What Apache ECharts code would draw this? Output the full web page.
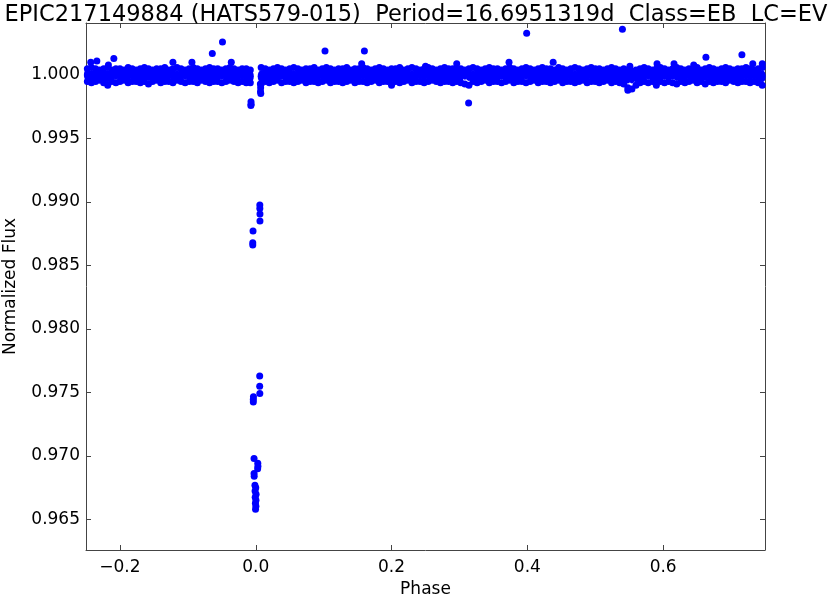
<!DOCTYPE html>
<html>
<head>
<meta charset="utf-8">
<script src="https://cdn.jsdelivr.net/npm/echarts@6/dist/echarts.min.js"></script>
<style>
html, body { margin: 0; padding: 0; background: #fff; }
#chart { width: 830px; height: 598px; }
</style>
</head>
<body>
<div id="chart"></div>
<script>
var titleText = 'EPIC217149884 (HATS579-015)  Period=16.6951319d  Class=EB  LC=EV';
var xTicks = [-0.2, 0.0, 0.2, 0.4, 0.6];
var yTicks = [0.965, 0.970, 0.975, 0.980, 0.985, 0.990, 0.995, 1.000];

// out-of-transit band, read as upper / middle / lower rows of the dot cloud
var bandPhase = [
-0.248,-0.242,-0.236,-0.230,-0.224,-0.218,-0.212,-0.206,-0.200,-0.194,
-0.188,-0.182,-0.176,-0.170,-0.164,-0.158,-0.152,-0.146,-0.140,-0.134,
-0.128,-0.122,-0.116,-0.110,-0.104,-0.098,-0.092,-0.086,-0.080,-0.074,
-0.068,-0.062,-0.056,-0.050,-0.044,-0.038,-0.032,-0.026,-0.020,-0.014,
-0.008,
0.008,0.014,0.020,0.026,0.032,0.038,0.044,0.050,0.056,0.062,
0.068,0.074,0.080,0.086,0.092,0.098,0.104,0.110,0.116,0.122,
0.128,0.134,0.140,0.146,0.152,0.158,0.164,0.170,0.176,0.182,
0.188,0.194,0.200,0.206,0.212,0.218,0.224,0.230,0.236,0.242,
0.248,0.254,0.260,0.266,0.272,0.278,0.284,0.290,0.296,0.302,
0.308,0.314,0.320,0.326,0.332,0.338,0.344,0.350,0.356,0.362,
0.368,0.374,0.380,0.386,0.392,0.398,0.404,0.410,0.416,0.422,
0.428,0.434,0.440,0.446,0.452,0.458,0.464,0.470,0.476,0.482,
0.488,0.494,0.500,0.506,0.512,0.518,0.524,0.530,0.536,0.542,
0.548,0.554,0.560,0.566,0.572,0.578,0.584,0.590,0.596,0.602,
0.608,0.614,0.620,0.626,0.632,0.638,0.644,0.650,0.656,0.662,
0.668,0.674,0.680,0.686,0.692,0.698,0.704,0.710,0.716,0.722,
0.728,0.734,0.740,0.746
];
var bandHi = [
1.0005,1.0006,1.0005,1.0004,1.0005,1.0006,1.0004,1.0005,1.0005,1.0004,
1.0006,1.0005,1.0004,1.0005,1.0006,1.0005,1.0004,1.0005,1.0005,1.0006,
1.0004,1.0005,1.0006,1.0005,1.0004,1.0005,1.0006,1.0005,1.0004,1.0005,
1.0006,1.0005,1.0005,1.0004,1.0005,1.0006,1.0005,1.0004,1.0005,1.0005,
1.0004,
1.0006,1.0005,1.0004,1.0005,1.0006,1.0005,1.0004,1.0005,1.0006,1.0005,
1.0004,1.0005,1.0005,1.0006,1.0004,1.0005,1.0006,1.0005,1.0004,1.0005,
1.0005,1.0006,1.0004,1.0005,1.0005,1.0006,1.0005,1.0004,1.0005,1.0006,
1.0005,1.0004,1.0005,1.0005,1.0006,1.0004,1.0005,1.0006,1.0005,1.0004,
1.0005,1.0006,1.0005,1.0004,1.0005,1.0006,1.0005,1.0005,1.0004,1.0005,
1.0004,1.0005,1.0006,1.0005,1.0004,1.0005,1.0006,1.0005,1.0005,1.0004,
1.0005,1.0006,1.0005,1.0004,1.0005,1.0006,1.0005,1.0004,1.0005,1.0006,
1.0005,1.0005,1.0004,1.0006,1.0005,1.0004,1.0005,1.0006,1.0005,1.0004,
1.0005,1.0006,1.0005,1.0005,1.0004,1.0005,1.0006,1.0005,1.0004,1.0005,
1.0004,1.0003,1.0004,1.0005,1.0006,1.0005,1.0004,1.0005,1.0006,1.0005,
1.0004,1.0005,1.0006,1.0005,1.0004,1.0005,1.0005,1.0006,1.0004,1.0005,
1.0006,1.0005,1.0004,1.0005,1.0006,1.0005,1.0004,1.0005,1.0005,1.0006,
1.0005,1.0004,1.0005,1.0006
];
var bandMid = [
1.0000,0.9999,1.0001,1.0000,1.0000,0.9999,1.0000,1.0001,1.0000,0.9999,
1.0000,1.0001,1.0000,0.9999,1.0000,1.0000,1.0001,1.0000,0.9999,1.0000,
1.0001,1.0000,0.9999,1.0000,1.0001,1.0000,1.0000,0.9999,1.0000,1.0001,
1.0000,0.9999,1.0000,1.0001,1.0000,1.0000,0.9999,1.0000,1.0001,1.0000,
0.9999,
0.9999,1.0001,1.0000,0.9999,1.0000,1.0001,1.0000,1.0000,0.9999,1.0000,
1.0001,1.0000,0.9999,1.0000,1.0000,1.0001,1.0000,0.9999,1.0000,1.0001,
1.0000,1.0001,1.0000,0.9999,1.0000,1.0001,1.0000,1.0000,0.9999,1.0000,
1.0001,1.0000,0.9999,1.0000,1.0000,1.0001,1.0000,0.9999,1.0000,1.0001,
1.0000,1.0001,1.0000,0.9999,1.0000,1.0001,1.0000,1.0000,0.9999,1.0000,
1.0001,1.0000,0.9999,1.0000,1.0000,1.0001,1.0000,0.9999,1.0000,1.0001,
1.0000,1.0001,1.0000,0.9999,1.0000,1.0001,1.0000,1.0000,0.9999,1.0000,
1.0001,1.0000,0.9999,1.0000,1.0000,1.0001,1.0000,0.9999,1.0000,1.0001,
1.0000,1.0001,1.0000,0.9999,1.0000,1.0001,1.0000,1.0000,0.9999,0.9999,
0.9998,0.9998,0.9999,1.0000,1.0000,1.0001,1.0000,0.9999,1.0000,1.0001,
1.0000,1.0001,1.0000,0.9999,1.0000,1.0001,1.0000,1.0000,0.9999,1.0000,
1.0001,1.0000,0.9999,1.0000,1.0000,1.0001,1.0000,0.9999,1.0000,1.0001,
1.0000,1.0001,1.0000,0.9999
];
var bandLo = [
0.9995,0.9994,0.9995,0.9996,0.9994,0.9992,0.9995,0.9994,0.9995,0.9996,
0.9994,0.9995,0.9995,0.9994,0.9995,0.9993,0.9995,0.9996,0.9994,0.9995,
0.9995,0.9994,0.9996,0.9995,0.9994,0.9995,0.9995,0.9994,0.9996,0.9995,
0.9994,0.9995,0.9995,0.9994,0.9995,0.9996,0.9995,0.9994,0.9995,0.9994,
0.9994,
0.9993,0.9995,0.9994,0.9995,0.9996,0.9994,0.9995,0.9995,0.9994,0.9995,
0.9996,0.9994,0.9995,0.9995,0.9994,0.9995,0.9996,0.9994,0.9995,0.9995,
0.9994,0.9995,0.9996,0.9994,0.9995,0.9995,0.9994,0.9995,0.9996,0.9994,
0.9995,0.9995,0.9992,0.9995,0.9994,0.9995,0.9996,0.9994,0.9995,0.9995,
0.9994,0.9995,0.9996,0.9995,0.9994,0.9995,0.9995,0.9994,0.9995,0.9994,
0.9993,0.9992,0.9995,0.9994,0.9995,0.9996,0.9994,0.9995,0.9995,0.9994,
0.9995,0.9996,0.9994,0.9995,0.9995,0.9994,0.9995,0.9996,0.9994,0.9995,
0.9995,0.9994,0.9995,0.9996,0.9994,0.9995,0.9995,0.9994,0.9995,0.9996,
0.9994,0.9995,0.9995,0.9994,0.9995,0.9996,0.9994,0.9995,0.9994,0.9993,
0.9990,0.9989,0.9992,0.9994,0.9995,0.9994,0.9995,0.9992,0.9995,0.9994,
0.9995,0.9994,0.9993,0.9995,0.9994,0.9995,0.9996,0.9994,0.9995,0.9993,
0.9995,0.9994,0.9995,0.9995,0.9994,0.9996,0.9995,0.9994,0.9995,0.9995,
0.9994,0.9995,0.9994,0.9992
];

// points in and around the eclipse
var eclipsePhase = [
-0.0070,-0.0068,-0.0072,
0.0068,0.0072,0.0070,0.0074,
0.0060,0.0060,0.0062,0.0062,-0.0040,-0.0044,-0.0044,
0.0058,0.0058,0.0060,-0.0034,-0.0036,-0.0036,
-0.0025,0.0030,0.0032,0.0028,-0.0025,-0.0023,
-0.0012,0.0000,-0.0010,0.0005,-0.0008,0.0003,-0.0005,0.0002,-0.0003
];
var eclipseFlux = [
0.9979,0.9977,0.9976,
0.9993,0.9990,0.9987,0.99855,
0.98976,0.98950,0.98905,0.98850,0.98773,0.98679,0.98661,
0.97631,0.97550,0.97493,0.97466,0.97445,0.97425,
0.96980,0.96943,0.96920,0.96900,0.96862,0.96841,
0.96770,0.96750,0.96725,0.96700,0.96676,0.96652,0.96629,0.96605,0.96581
];

// scattered points off the band
var outlierPhase = [
-0.243,-0.234,-0.217,-0.209,-0.122,-0.094,-0.064,-0.049,-0.036,
0.102,0.160,0.156,0.250,0.296,0.3135,0.373,0.399,0.438,
0.540,0.551,0.548,0.591,0.616,0.645,0.663,0.716,0.732,0.746
];
var outlierFlux = [
1.0010,1.0011,1.0008,1.0013,1.0010,1.0010,1.0017,1.0026,1.0010,
1.0019,1.0019,1.0009,1.0007,1.0009,0.9978,1.0010,1.0033,1.0010,
1.0036,1.0007,0.9988,1.0009,1.0009,1.0008,1.0014,1.0016,1.0009,1.0009
];

var edgePoints = [];
var corePoints = [];
for (var i = 0; i < bandPhase.length; i++) {
    edgePoints.push([bandPhase[i], bandHi[i]]);
    edgePoints.push([bandPhase[i], bandLo[i]]);
    corePoints.push([bandPhase[i], bandMid[i]]);
}
for (var j = 0; j < eclipsePhase.length; j++) {
    edgePoints.push([eclipsePhase[j], eclipseFlux[j]]);
}
for (var k = 0; k < outlierPhase.length; k++) {
    edgePoints.push([outlierPhase[k], outlierFlux[k]]);
}

var font = 'DejaVu Sans';
var lineCol = '#444';
var dotStyle = { color: '#0000ff', opacity: 1 };

var myChart = echarts.init(document.getElementById('chart'));
var option = {
    animation: false,
    backgroundColor: '#fff',
    title: {
        text: titleText,
        left: 411,
        top: -1,
        textAlign: 'center',
        textStyle: { fontFamily: font, fontSize: 22.5, fontWeight: 'normal', color: '#000' }
    },
    grid: { left: 86, right: 65, top: 23, bottom: 48, outerBoundsMode: 'none', containLabel: false },
    xAxis: [
        {
            type: 'value', position: 'bottom', min: -0.25, max: 0.75,
            name: 'Phase', nameLocation: 'middle', nameGap: 31,
            nameTextStyle: { fontFamily: font, fontSize: 17, color: '#000' },
            axisLine: { onZero: false, lineStyle: { color: lineCol, width: 1 } },
            axisTick: { inside: true, length: 5, customValues: xTicks, lineStyle: { color: lineCol } },
            axisLabel: {
                customValues: xTicks, margin: 9,
                fontFamily: font, fontSize: 17, color: '#000',
                formatter: function (v) { return v.toFixed(1).replace('-', '\u2212'); }
            },
            splitLine: { show: false }
        },
        {
            type: 'value', position: 'top', min: -0.25, max: 0.75,
            axisLine: { onZero: false, lineStyle: { color: lineCol, width: 1 } },
            axisTick: { inside: true, length: 5, customValues: xTicks, lineStyle: { color: lineCol } },
            axisLabel: { show: false },
            splitLine: { show: false }
        }
    ],
    yAxis: [
        {
            type: 'value', position: 'left', min: 0.9626, max: 1.0041,
            name: 'Normalized Flux', nameLocation: 'middle', nameGap: 67,
            nameTextStyle: { fontFamily: font, fontSize: 17, color: '#000' },
            axisLine: { onZero: false, lineStyle: { color: lineCol, width: 1 } },
            axisTick: { inside: true, length: 5, customValues: yTicks, lineStyle: { color: lineCol } },
            axisLabel: {
                customValues: yTicks, margin: 6,
                fontFamily: font, fontSize: 17, color: '#000',
                formatter: function (v) { return v.toFixed(3); }
            },
            splitLine: { show: false }
        },
        {
            type: 'value', position: 'right', min: 0.9626, max: 1.0041,
            axisLine: { onZero: false, lineStyle: { color: lineCol, width: 1 } },
            axisTick: { inside: true, length: 5, customValues: yTicks, lineStyle: { color: lineCol } },
            axisLabel: { show: false },
            splitLine: { show: false }
        }
    ],
    series: [
        {
            // middle of the band: taller dots so the dense cloud reads as solid
            type: 'scatter',
            symbol: 'circle',
            symbolSize: [7, 12],
            itemStyle: dotStyle,
            data: corePoints
        },
        {
            type: 'scatter',
            symbol: 'circle',
            symbolSize: 7,
            itemStyle: dotStyle,
            data: edgePoints
        }
    ]
};
myChart.setOption(option);
</script>
</body>
</html>
